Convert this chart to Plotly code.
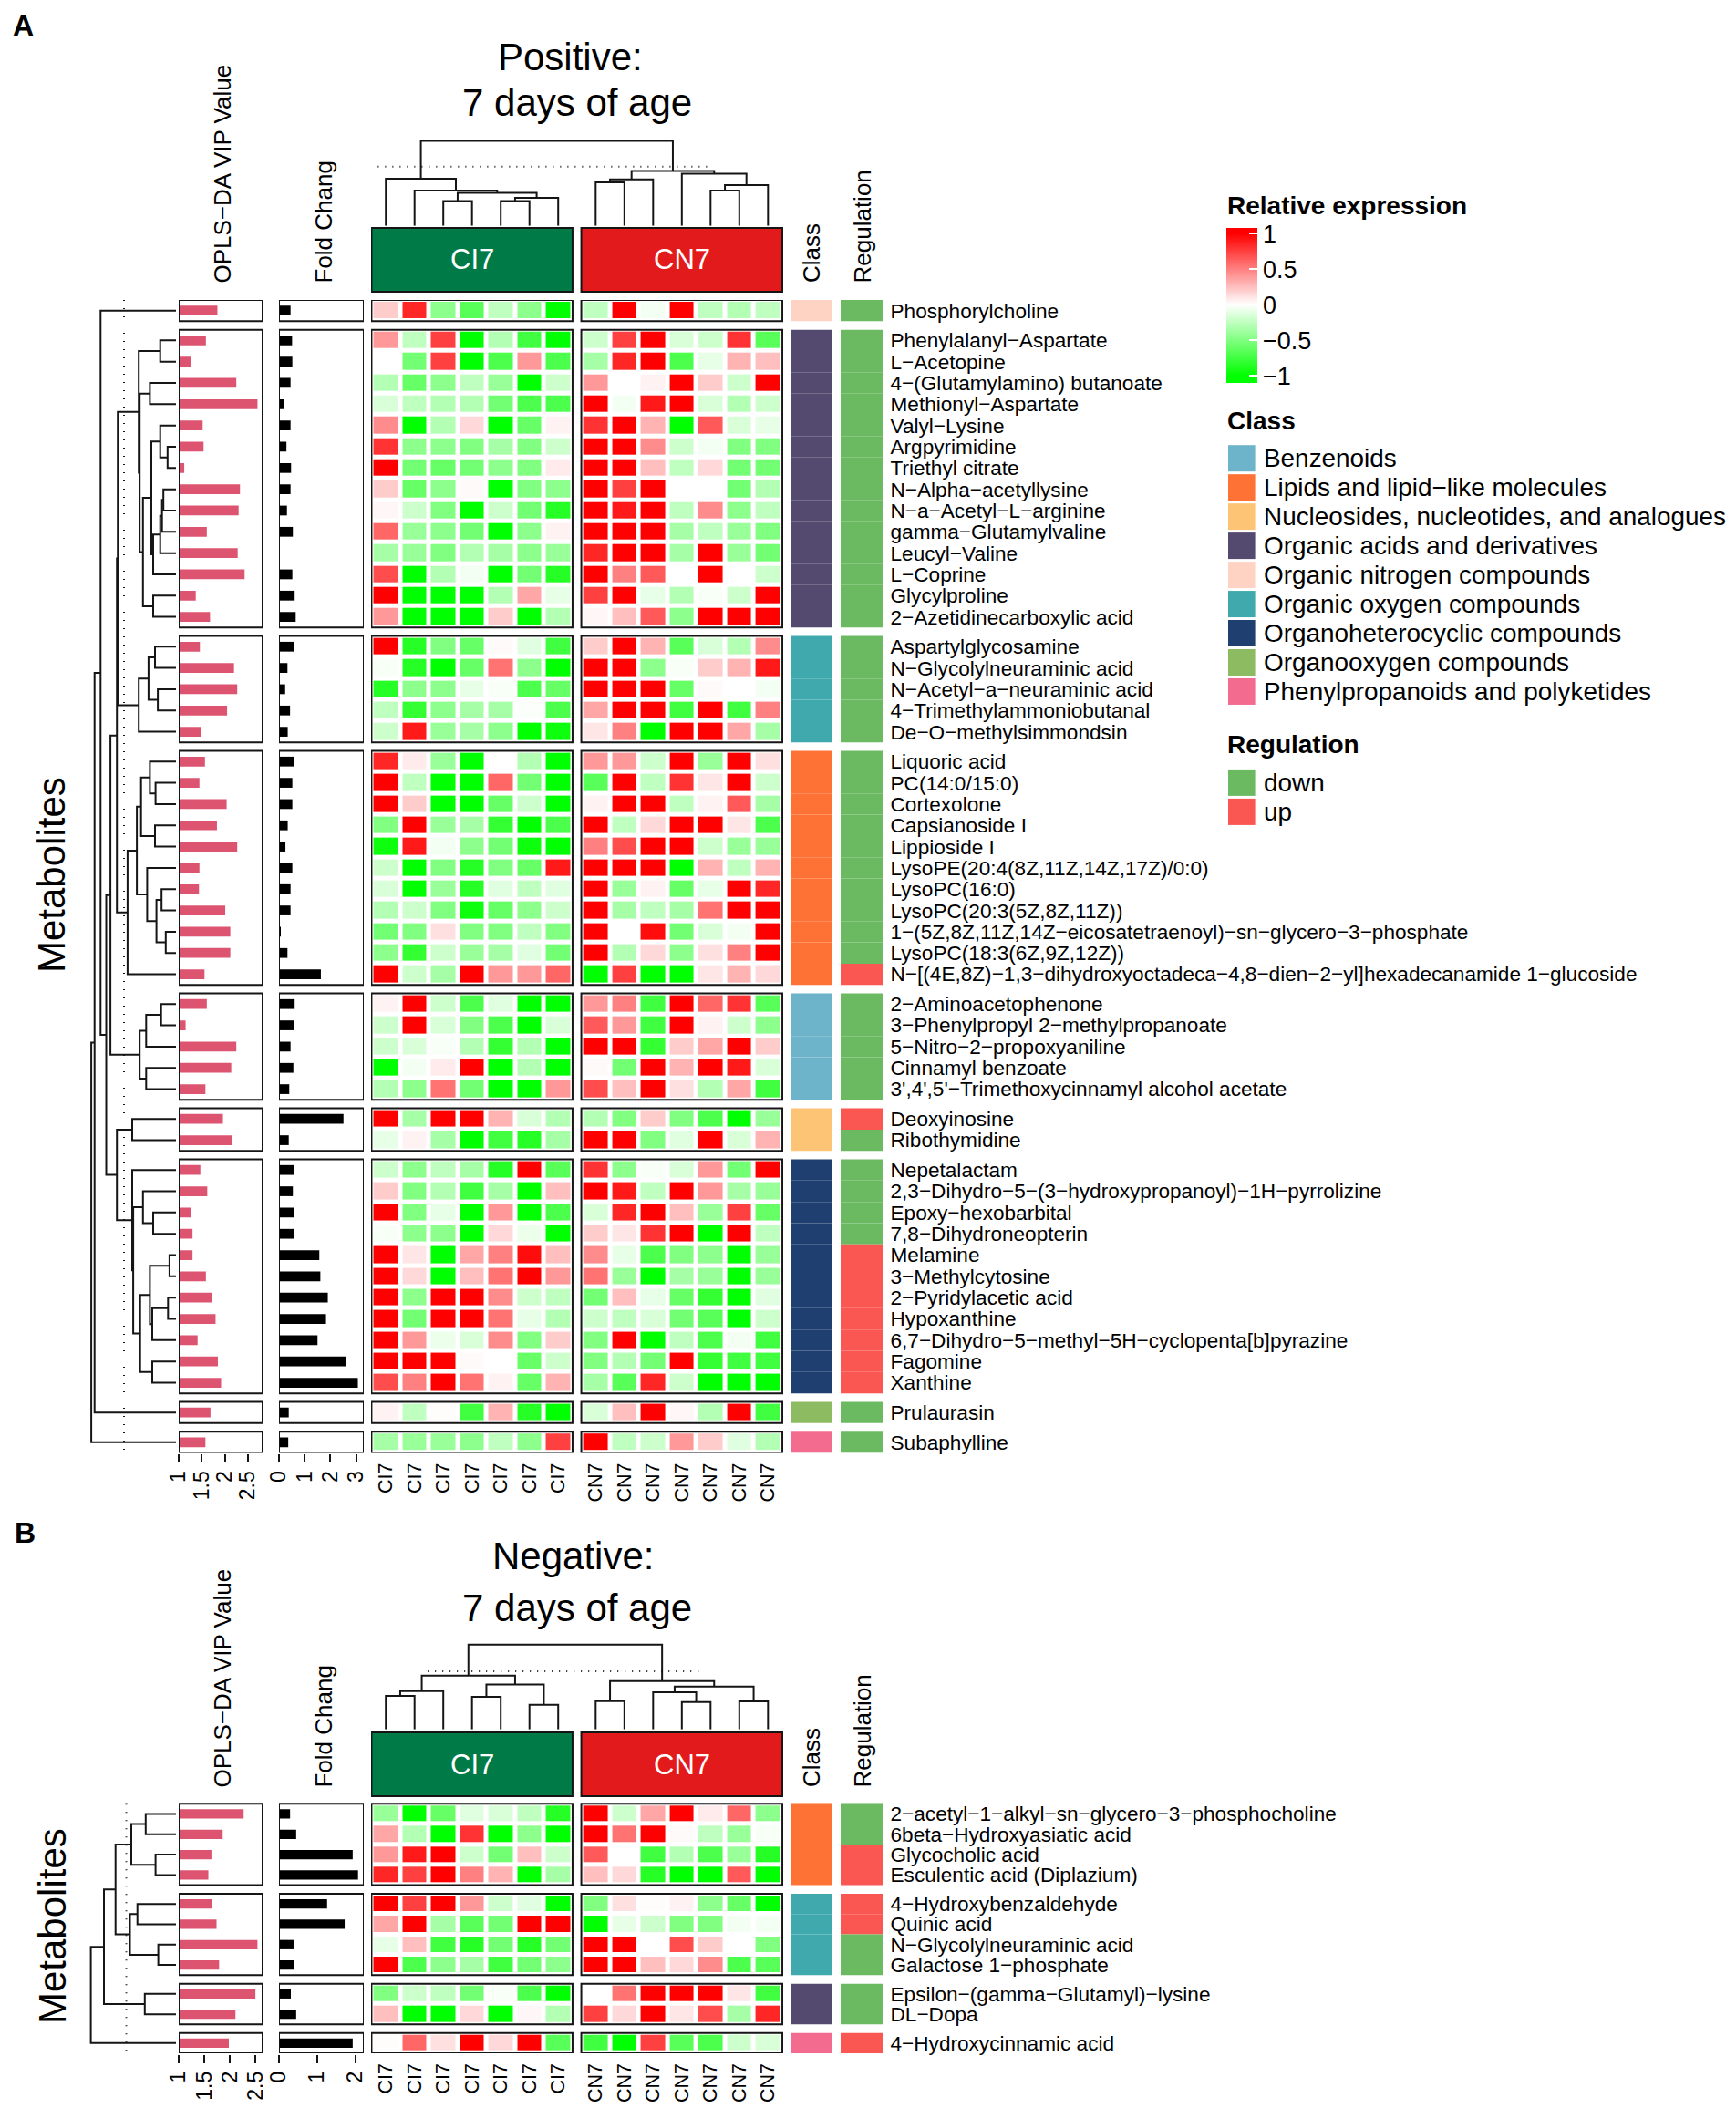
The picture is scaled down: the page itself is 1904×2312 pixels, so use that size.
import plotly.graph_objects as go

W, H = 1904, 2312
FONT = "Liberation Sans"

class_colors = {
    "Benzenoids": "#6DB3C9", "Lipids and lipid−like molecules": "#FF7235",
    "Nucleosides, nucleotides, and analogues": "#FDC476", "Organic acids and derivatives": "#544A70",
    "Organic nitrogen compounds": "#FFD3C3", "Organic oxygen compounds": "#40A9AD",
    "Organoheterocyclic compounds": "#1E3F6F", "Organooxygen compounds": "#8DBB62",
    "Phenylpropanoids and polyketides": "#F36B8F",
}
reg_colors = {"down": "#6BBA62", "up": "#FA5652"}

# ---------- Panel A data ----------
group_sizes_a = [1, 14, 5, 11, 5, 2, 11, 1, 1]
group_class_a = ["Organic nitrogen compounds", "Organic acids and derivatives", "Organic oxygen compounds",
                 "Lipids and lipid−like molecules", "Benzenoids", "Nucleosides, nucleotides, and analogues",
                 "Organoheterocyclic compounds", "Organooxygen compounds", "Phenylpropanoids and polyketides"]
labels_a = ["Phosphorylcholine",
    "Phenylalanyl−Aspartate", "L−Acetopine", "4−(Glutamylamino) butanoate", "Methionyl−Aspartate", "Valyl−Lysine",
    "Argpyrimidine", "Triethyl citrate", "N−Alpha−acetyllysine", "N−a−Acetyl−L−arginine", "gamma−Glutamylvaline",
    "Leucyl−Valine", "L−Coprine", "Glycylproline", "2−Azetidinecarboxylic acid",
    "Aspartylglycosamine", "N−Glycolylneuraminic acid", "N−Acetyl−a−neuraminic acid", "4−Trimethylammoniobutanal",
    "De−O−methylsimmondsin",
    "Liquoric acid", "PC(14:0/15:0)", "Cortexolone", "Capsianoside I", "Lippioside I", "LysoPE(20:4(8Z,11Z,14Z,17Z)/0:0)",
    "LysoPC(16:0)", "LysoPC(20:3(5Z,8Z,11Z))", "1−(5Z,8Z,11Z,14Z−eicosatetraenoyl)−sn−glycero−3−phosphate",
    "LysoPC(18:3(6Z,9Z,12Z))", "N−[(4E,8Z)−1,3−dihydroxyoctadeca−4,8−dien−2−yl]hexadecanamide 1−glucoside",
    "2−Aminoacetophenone", "3−Phenylpropyl 2−methylpropanoate", "5−Nitro−2−propoxyaniline", "Cinnamyl benzoate",
    "3',4',5'−Trimethoxycinnamyl alcohol acetate",
    "Deoxyinosine", "Ribothymidine",
    "Nepetalactam", "2,3−Dihydro−5−(3−hydroxypropanoyl)−1H−pyrrolizine", "Epoxy−hexobarbital", "7,8−Dihydroneopterin",
    "Melamine", "3−Methylcytosine", "2−Pyridylacetic acid", "Hypoxanthine",
    "6,7−Dihydro−5−methyl−5H−cyclopenta[b]pyrazine", "Fagomine", "Xanthine",
    "Prulaurasin", "Subaphylline"]
vip_a = [1.84,
    1.59, 1.26, 2.25, 2.71, 1.52, 1.54, 1.12, 2.33, 2.30, 1.61, 2.28, 2.43, 1.37, 1.68,
    1.46, 2.20, 2.27, 2.05, 1.48,
    1.57, 1.45, 2.04, 1.83, 2.27, 1.45, 1.44, 2.01, 2.12, 2.12, 1.56,
    1.61, 1.15, 2.25, 2.14, 1.58,
    1.96, 2.15,
    1.47, 1.62, 1.27, 1.30, 1.30, 1.59, 1.73, 1.80, 1.41, 1.85, 1.92,
    1.69, 1.58]
fc_a = [.45,
    .51, .52, .45, .18, .45, .29, .47, .45, .31, .54, .02, .52, .61, .65,
    .58, .33, .24, .43, .34,
    .58, .52, .52, .34, .25, .52, .45, .45, .07, .33, 1.63,
    .61, .58, .45, .56, .40,
    2.51, .38,
    .58, .54, .58, .58, 1.57, 1.61, 1.90, 1.83, 1.50, 2.62, 3.07,
    .38, .36]
regulation_a = (["down"] * 30 + ["up"] + ["down"] * 5 + ["up", "down"] + ["down"] * 4 + ["up"] * 7 + ["down"] * 2)
heat_a = [
    [.2, .85, -.45, -.65, -.25, -.45, -1, -.25, 1, -.05, 1, -.25, -.3, -.25],
    [.4, -.25, .75, -1, -.3, -.75, -1, -.2, .75, 1, -.15, -.2, .8, -.65],
    [0, -.55, .75, -1, -.7, .4, -.7, -.35, .85, 1, -.7, -.1, .3, .25],
    [-.3, -.6, -.45, -.25, -.4, -1, -.2, .4, 0, .05, 1, .2, -.2, 1],
    [-.15, -.25, -.3, -.3, -.55, -.7, -.7, 1, -.05, .9, 1, -.15, -.3, -.2],
    [.45, -1, -.3, .15, -1, -.6, .05, .8, 1, .3, -1, .65, -.15, -.1],
    [.8, -.45, -.45, -.5, -.35, -.5, -.2, 1, 1, .45, -.2, -.05, -.5, -.5],
    [1, -.55, -.6, -.55, -.45, -.5, .08, 1, 1, .25, -.25, .15, -.55, -.55],
    [.2, -.6, -.45, .02, -1, -.5, -.45, 1, .75, 1, 0, 0, -.55, -.3],
    [.03, -.2, -.5, -1, -.2, -.55, -.85, 1, .9, 1, -.25, .45, -.45, -.25],
    [.6, -.4, -.45, -.55, -1, -.45, .05, 1, 1, 1, -.35, -.25, -.4, -.5],
    [-.35, -.4, -.5, -.3, -.35, -.45, -.4, .85, 1, 1, -.35, 1, -.4, -.55],
    [.7, -1, -.3, -.05, -1, -.55, -.85, 1, .5, .65, 0, 1, 0, -.2],
    [1, -1, -1, -1, -.3, .35, -.1, .75, 1, -.1, -.3, -.03, -.2, 1],
    [.4, -1, -1, -1, .2, -1, -.3, .03, .25, .65, -.45, 1, 1, 1],
    [1, -.85, -.5, -.6, .02, -.12, -.75, .2, 1, .3, -.65, -.15, -.3, .45],
    [-.03, -.85, -1, -.6, .55, -.45, -1, 1, 1, -.45, -.03, .2, .3, .9],
    [-.85, -.45, -.45, -.1, -.03, -.7, -.6, 1, 1, 1, -.6, .02, 0, -.05],
    [-.25, -.8, -.45, -.35, -.35, -.02, -.7, .35, 1, 1, -.75, 1, -.75, .5],
    [-.2, .9, -.4, -.35, -.45, -1, -.95, .1, .5, -1, 1, 1, .35, -.35],
    [.85, .08, -.4, -1, 0, -.3, -1, .4, .4, -.2, 1, -.4, 1, .12],
    [1, -.25, -1, -1, .6, -.55, -1, -.65, 1, -.25, .8, .1, 1, -.2],
    [1, .2, -1, -1, -.6, -.2, -1, .05, 1, 1, -.25, .05, .65, -.35],
    [-.5, 1, -.4, -.35, -.8, -1, -.7, 1, -.25, .15, 1, 1, .1, -.7],
    [-.95, .9, -.05, -.45, -.55, -.95, -1, .5, .7, 1, 1, -.2, -.4, -.4],
    [-.2, -1, -.5, -.85, -.5, -.6, .9, 1, 1, 1, -1, .3, -.25, .3],
    [-.15, -1, -.4, -.85, -.12, -.25, -.12, 1, -.4, .05, -.6, -.1, 1, .85],
    [-.3, -.2, -.5, -.95, -.6, -.45, -.2, 1, -.35, -.25, -.35, .55, 1, 1],
    [-.55, -.5, .12, -.5, -.5, -.25, -.5, 1, 0, .95, -.55, -.15, -.05, 1],
    [-.45, -.8, -.2, -.4, -.35, -.12, -.55, 1, -.3, .15, -.45, .12, .5, 1],
    [1, -.2, -.35, 1, .4, .4, .6, -1, .75, -1, -1, .1, .3, .15],
    [.05, 1, -.2, -.7, -.12, -1, -1, .4, .5, -.75, 1, .6, .8, -.65],
    [-.2, 1, -.15, -.5, -.7, -1, -.15, .65, .4, -.75, 1, .05, -.2, -.45],
    [-.2, -.15, -.03, -.3, -.8, -.3, -1, 1, 1, -.8, .2, .35, 1, .2],
    [-1, -.05, .08, 1, -1, -.3, -1, .02, -.55, 1, .3, 1, .9, -.15],
    [-.3, -.45, .55, -.55, -1, -1, .4, .7, .25, 1, .12, -.3, .35, -.75],
    [1, -.35, 1, 1, .3, -.15, -.3, -.3, -.5, .2, -.5, -.7, -1, -.4],
    [-.1, .05, -.35, -1, -.75, -.85, -.35, 1, 1, -.5, -.12, 1, -.15, .3],
    [-.2, -.45, -.25, -.35, -.85, 1, -.65, .8, -.45, -.03, -.15, .4, -.55, 1],
    [.2, -.5, -.3, -.75, -.35, -1, .25, 1, .9, -.25, 1, .4, -.35, -.4],
    [1, -.5, -.1, -1, .4, -1, -.7, -.15, .85, 1, .25, -.4, .75, -.6],
    [-.03, -.45, -.45, -1, .15, -.08, -1, .2, .1, .8, 1, -1, 1, -.25],
    [1, .1, -1, .35, .5, .95, .25, .45, -.1, -.7, -.5, -.45, -1, -.4],
    [1, .15, -1, .25, .55, 1, .4, .55, -.4, -1, -.35, -.4, -1, -.4],
    [1, -.45, 1, 1, .45, -.2, -.25, -.55, .25, -.1, -.6, -.8, -1, -.12],
    [1, -.55, 1, 1, .55, -.1, -.3, -.2, -.25, -.15, -.55, -.65, -1, -.2],
    [1, .4, -.08, -.15, .45, -.5, .2, -.5, 1, -1, -.25, -.7, -.05, -.75],
    [1, 1, 1, .02, 0, -.6, -.2, -.5, -.3, -.55, 1, -.8, -.75, -.75],
    [.7, .5, 1, .55, .05, -.6, .3, -.35, -.65, .85, -.2, -1, -1, -1],
    [.05, -.25, .01, -.75, .3, -.85, -1, -.15, .25, 1, .03, -.3, 1, -.75],
    [-.35, -.4, -.4, -.45, -.25, -.45, .75, 1, -.25, -.2, .4, .2, -.12, -.3],
]
# dendrogram nodes are [height, left, right]; 0 is a leaf
_g2 = [40.8, [17.3, 0, 0], [39.8, [28.6, 0, 0], [36.2,
       [27, [17.3, 0, [9.2, 0, 0]], [25, [17.3, [15.3, [13.8, 0, 0], 0], 0], 0]], [25, 0, 0]]]]
_g3 = [40.8, [30.1, [23, 0, 0], [19.9, 0, 0]], 0]
_g4 = [53.1, [42.9, [38.3, [28.6, 0, [22.4, 0, 0]], [23, 0, 0]],
              [31.6, 0, [21.4, [15.8, 0, 0], [11.2, 0, 0]]]], 0]
_g5 = [39.8, [32.7, [16.3, 0, 0], 0], [32.7, 0, 0]]
_g7 = [48, 0, [46.9, [36.2, 0, [25, 0, 0]],
               [39.3, [28.6, [7.1, 0, 0], [26, [8.7, 0, 0], 0]], [26, 0, 0]]]]
row_tree_a = [92.9, [89.3, [82.7, 0, [76.5,
              [71.9, [64.8, [63.8, _g2, _g3], _g4], _g5],
              [64.8, [48, 0, 0], _g7]]], 0], 0]
col_tree_a = [93.3,
              [51.7, 0, [38.7, 0, [36.3, [27.3, 0, 0], [30.7, [27.3, 0, 0], 0]]]],
              [60.3, [51, [47.7, 0, 0], 0], [57.3, 0, [44.7, [38.7, 0, 0], 0]]]]
row_cut_a, col_cut_a = 57, 65

# ---------- Panel B data ----------
group_sizes_b = [4, 4, 2, 1]
group_class_b = ["Lipids and lipid−like molecules", "Organic oxygen compounds",
                 "Organic acids and derivatives", "Phenylpropanoids and polyketides"]
labels_b = ["2−acetyl−1−alkyl−sn−glycero−3−phosphocholine", "6beta−Hydroxyasiatic acid", "Glycocholic acid",
            "Esculentic acid (Diplazium)", "4−Hydroxybenzaldehyde", "Quinic acid", "N−Glycolylneuraminic acid",
            "Galactose 1−phosphate", "Epsilon−(gamma−Glutamyl)−lysine", "DL−Dopa", "4−Hydroxycinnamic acid"]
vip_b = [2.27, 1.86, 1.64, 1.58, 1.65, 1.74, 2.54, 1.79, 2.50, 2.11, 1.98]
fc_b = [.29, .45, 1.93, 2.07, 1.26, 1.72, .39, .39, .31, .45, 1.93]
regulation_b = ["down", "down", "up", "up", "up", "up", "down", "down", "down", "down", "up"]
heat_b = [
    [-.4, -1, -.6, -.12, -.15, -.25, -.85, 1, -.2, .35, 1, .08, .6, -.45],
    [.35, -.3, -1, .8, -1, -.45, -1, 1, .55, 1, .02, -.25, -.4, -.03],
    [.4, .9, 1, -.2, -.55, .25, -.2, .65, 0, -.75, -.3, -.7, -.4, -.85],
    [.85, .75, 1, .5, .3, -1, -.35, .25, .15, -.85, -1, -1, .65, -1],
    [1, .75, 1, .4, -.2, -.12, -1, -.5, .12, .01, .05, -.45, -.6, -1],
    [.35, 1, -.35, -.65, -.55, 1, 1, -1, -.1, -.2, -.5, -.5, -.05, -.05],
    [-.1, .25, -.75, -.85, -.55, -.85, -.55, 1, 1, 0, .7, .2, 0, -.5],
    [1, -.7, -.45, -.35, -.75, -.55, -.45, 1, 1, .25, .15, .45, -.7, -.65],
    [-.5, -.2, -.25, -.55, -.03, -.7, -1, 0, .55, 1, 1, 1, .1, -.75],
    [.25, -1, -1, .15, -1, .03, -.3, .75, .15, 1, .1, .7, -.35, .85],
    [.01, .6, .12, 1, .15, 1, -.65, -.75, -1, .75, -.65, -.7, -.2, -.15],
]
row_tree_b = [93.4, [79, [66.3, [49, [33.2, 0, 0], [22.4, 0, 0]], [50.5, [42.3, 0, 0], [19.4, 0, 0]]],
                     [34.2, 0, 0]], 0]
col_tree_b = [93,
              [59, [42, [36.7, 0, 0], 0], [49.3, [35.7, 0, 0], [27, 0, 0]]],
              [53, [31, 0, 0], [47, [40.7, 0, [30, 0, 0]], [30.7, 0, 0]]]]
row_cut_b, col_cut_b = 54.5, 63.7

col_names = ["CI7"] * 7 + ["CN7"] * 7
vip_ticks = [1, 1.5, 2, 2.5]
vip_ticktext = ["1", "1.5", "2", "2.5"]
fc_ticks_a = [0, 1, 2, 3]
fc_ticks_b = [0, 1, 2]
legend_ticks = [1, .5, 0, -.5, -1]

# ---------- helpers ----------
def xdom(a, b): return [a / W, b / W]
def ydom(top, bot): return [1 - bot / H, 1 - top / H]
def py(y): return 1 - y / H
def px(x): return x / W

COL_PITCH = 31.5
COL_X0 = 423.2
CN_OFFSET = 7.305
col_pos = [float(i) for i in range(7)] + [CN_OFFSET + i for i in range(7)]
heat_x0, heat_x1 = 407, 859
heat_range = [(heat_x0 - COL_X0) / COL_PITCH, (heat_x1 - COL_X0) / COL_PITCH]

def dendro(tree, leaves):
    xs, ys = [], []
    it = iter(leaves)
    def walk(n):
        if n == 0:
            return next(it), 0
        a, ha = walk(n[1])
        b, hb = walk(n[2])
        h = n[0]
        xs.extend([a, a, b, b, None])
        ys.extend([ha, h, h, hb, None])
        return (a + b) / 2, h
    walk(tree)
    return xs, ys

fig = go.Figure()
layout = dict(
    width=W, height=H, autosize=False, margin=dict(l=0, r=0, t=0, b=0, pad=0),
    paper_bgcolor="white", plot_bgcolor="white", showlegend=False, template="none",
    font=dict(family=FONT, color="black"),
    coloraxis=dict(
        cmin=-1.1, cmax=1.08,
        colorscale=[[0, "#00ff00"], [0.1 / 2.18, "#00ff00"], [1.1 / 2.18, "#ffffff"], [2.1 / 2.18, "#ff0000"], [1, "#ff0000"]],
        colorbar=dict(thicknessmode="pixels", thickness=34, lenmode="pixels", len=170, x=px(1345), xanchor="left",
                      y=py(250), yanchor="top", xpad=0, ypad=0, outlinewidth=0, borderwidth=0,
                      tickmode="array", tickvals=legend_ticks, ticktext=["1", "0.5", "0", "−0.5", "−1"],
                      ticks="inside", ticklen=9, tickcolor="white", tickwidth=2, tickfont=dict(size=27, family=FONT)),
    ),
)
shapes, annotations = [], []
LINE = "#151515"

def text(x, y, s, size, angle=0, xanchor="center", yanchor="middle", color="black", bold=False, xref="paper"):
    annotations.append(dict(x=x, y=py(y), xref=xref, yref="paper", text=f"<b>{s}</b>" if bold else s, showarrow=False,
                            font=dict(size=size, color=color, family=FONT), textangle=angle,
                            xanchor=xanchor, yanchor=yanchor, xshift=0, yshift=0, borderpad=0, borderwidth=0))

def panel(idx, sizes, classes, labels, vip, fc, reg, heat, row_tree, col_tree, row_cut, col_cut,
          top, bot, pitch_gap, dend_top_bot, vip_max, fc_max, fc_ticks, hdr, tick_y, row_dot_x):
    n = idx * 6
    xn = {k: n + i + 1 for i, k in enumerate(["vip", "fc", "heat", "cls", "reg", "dend"])}
    yr, yt = idx * 2 + 1, idx * 2 + 2
    ax = lambda i: "x" + (str(i) if i > 1 else "")
    ay = lambda i: "y" + (str(i) if i > 1 else "")
    key = lambda c, i: c + "axis" + (str(i) if i > 1 else "")
    # rows
    pos, starts = [], []
    p = 0.0
    for s in sizes:
        starts.append(p)
        pos.extend(p + j for j in range(s))
        p += s + pitch_gap
    yrange = [pos[-1] + .5, -.5]
    # axes
    layout[key("y", yr)] = dict(domain=ydom(top, bot), range=yrange, anchor="free", position=px(968), side="right",
                                tickmode="array", tickvals=pos, ticktext=labels, showgrid=False, zeroline=False,
                                showline=False, ticks="outside", ticklen=3, tickcolor="rgba(0,0,0,0)",
                                tickfont=dict(size=22.6, family=FONT))
    layout[key("y", yt)] = dict(domain=ydom(dend_top_bot[0], dend_top_bot[1]), range=[0, dend_top_bot[1] - dend_top_bot[0]],
                                visible=False, anchor=ax(xn["heat"]))
    tick_pos = py(tick_y)
    common = dict(showgrid=False, zeroline=False, showline=False, ticks="outside", ticklen=9, tickwidth=2,
                  tickcolor=LINE, tickangle=-90, tickfont=dict(size=23, family=FONT), anchor="free", position=tick_pos)
    layout[key("x", xn["vip"])] = dict(domain=xdom(196, 288), range=[1, vip_max], tickmode="array",
                                       tickvals=vip_ticks, ticktext=vip_ticktext, **common)
    layout[key("x", xn["fc"])] = dict(domain=xdom(306, 399), range=[0, fc_max], tickmode="array",
                                      tickvals=fc_ticks, ticktext=[str(t) for t in fc_ticks], **common)
    heat_common = dict(common, tickcolor="rgba(0,0,0,0)", ticklen=1, tickfont=dict(size=21.5, family=FONT))
    layout[key("x", xn["heat"])] = dict(domain=xdom(heat_x0, heat_x1), range=heat_range, tickmode="array",
                                        tickvals=col_pos, ticktext=col_names, **heat_common)
    layout[key("x", xn["cls"])] = dict(domain=xdom(867, 912.5), range=[0, 1], visible=False, anchor=ay(yr))
    layout[key("x", xn["reg"])] = dict(domain=xdom(922, 968), range=[0, 1], visible=False, anchor=ay(yr))
    layout[key("x", xn["dend"])] = dict(domain=xdom(0, 193), range=[193, 0], visible=False, anchor=ay(yr))
    # bars
    fig.add_bar(x=vip, y=pos, orientation="h", width=.46, marker=dict(color="#DC5470", line_width=0),
                xaxis=ax(xn["vip"]), yaxis=ay(yr))
    fig.add_bar(x=fc, y=pos, orientation="h", width=.46, marker=dict(color="black", line_width=0),
                xaxis=ax(xn["fc"]), yaxis=ay(yr))
    row_class = [c for c, s in zip(classes, sizes) for _ in range(s)]
    fig.add_bar(x=[1] * len(pos), y=pos, orientation="h", width=1,
                marker=dict(color=[class_colors[c] for c in row_class], line_width=0),
                xaxis=ax(xn["cls"]), yaxis=ay(yr))
    fig.add_bar(x=[1] * len(pos), y=pos, orientation="h", width=1,
                marker=dict(color=[reg_colors[r] for r in reg], line_width=0),
                xaxis=ax(xn["reg"]), yaxis=ay(yr))
    # heatmaps and panel frames
    i0 = 0
    for s, st in zip(sizes, starts):
        rows = heat[i0:i0 + s]
        i0 += s
        for a, b, off in [(0, 7, 0.0), (7, 14, CN_OFFSET)]:
            fig.add_trace(go.Heatmap(z=[r[a:b] for r in rows], x0=off, dx=1, y0=st, dy=1, coloraxis="coloraxis",
                                     xgap=5, ygap=5, xaxis=ax(xn["heat"]), yaxis=ay(yr), hoverongaps=False))
        y0, y1 = st - .5, st + s - .5
        frames = [(ax(xn["vip"]), 1, vip_max), (ax(xn["fc"]), 0, fc_max),
                  (ax(xn["heat"]), -.5, 6.5), (ax(xn["heat"]), CN_OFFSET - .5, CN_OFFSET + 6.5)]
        for xr, a, b in frames:
            shapes.append(dict(type="rect", xref=xr, yref=ay(yr), x0=a, x1=b, y0=y0, y1=y1,
                               line=dict(color=LINE, width=2), fillcolor="rgba(0,0,0,0)"))
    # dendrograms
    dh, dy = dendro(row_tree, pos)
    fig.add_scatter(x=dy, y=dh, mode="lines", line=dict(color=LINE, width=2), xaxis=ax(xn["dend"]), yaxis=ay(yr))
    fig.add_scatter(x=[row_cut, row_cut], y=[-.5, pos[-1] + .5], mode="lines",
                    line=dict(color=LINE, width=2, dash="1px,8px"), xaxis=ax(xn["dend"]), yaxis=ay(yr))
    tx, th = dendro(col_tree, col_pos)
    fig.add_scatter(x=tx, y=th, mode="lines", line=dict(color=LINE, width=2), xaxis=ax(xn["heat"]), yaxis=ay(yt))
    # header strips
    for a, b, col, name in [(-.5, 6.5, "#007A46", "CI7"), (CN_OFFSET - .5, CN_OFFSET + 6.5, "#E31A1C", "CN7")]:
        shapes.append(dict(type="rect", xref=ax(xn["heat"]), yref="paper", x0=a, x1=b, y0=py(hdr[1]), y1=py(hdr[0]),
                           fillcolor=col, line=dict(color=LINE, width=2)))
        annotations.append(dict(x=(a + b) / 2, y=py((hdr[0] + hdr[1]) / 2), xref=ax(xn["heat"]), yref="paper", text=name,
                                xanchor="center", yanchor="middle", showarrow=False,
                                font=dict(size=31, color="white", family=FONT)))
    return ax(xn["heat"]), ay(yt)

hx, hy = panel(0, group_sizes_a, group_class_a, labels_a, vip_a, fc_a, regulation_a, heat_a, row_tree_a, col_tree_a,
      row_cut_a, col_cut_a, 329, 1593.5, .4, (140, 247.7), 2.82, 3.3, fc_ticks_a, (250, 320), 1594, 136)
fig.add_scatter(x=[-.28, 11.26], y=[col_cut_a, col_cut_a], mode="lines", line=dict(color=LINE, width=2, dash="1px,7px"),
                xaxis=hx, yaxis=hy)
hx, hy = panel(1, group_sizes_b, group_class_b, labels_b, vip_b, fc_b, regulation_b, heat_b, row_tree_b, col_tree_b,
      row_cut_b, col_cut_b, 1978.3, 2252, .42, (1790, 1896.7), 2.64, 2.22, fc_ticks_b, (1900, 1970), 2252.5, 138)
fig.add_scatter(x=[1.46, 11.0], y=[col_cut_b, col_cut_b], mode="lines", line=dict(color=LINE, width=2, dash="1px,7px"),
                xaxis=hx, yaxis=hy)

# ---------- titles ----------
text(px(14), 28, "A", 32, xanchor="left", bold=True)
text(px(16), 1681, "B", 32, xanchor="left", bold=True)
text(px(625), 62, "Positive:", 42)
text(px(633), 113, "7 days of age", 42)
text(px(628), 1706, "Negative:", 42)
text(px(633), 1763, "7 days of age", 42)
for base, met_y in [(310.5, 960), (1960.5, 2113)]:
    text(px(243), base, "OPLS−DA VIP Value", 26, angle=-90, yanchor="bottom")
    text(px(354), base, "Fold Chang", 26, angle=-90, yanchor="bottom")
    text(px(890), base, "Class", 26, angle=-90, yanchor="bottom")
    text(px(945), base, "Regulation", 26, angle=-90, yanchor="bottom")
    text(px(57), met_y, "Metabolites", 42, angle=-90)

# ---------- legends ----------
text(px(1346), 225, "Relative expression", 28, xanchor="left", bold=True)
for t in legend_ticks:
    y = 334.3 - t * 78.3
    shapes.append(dict(type="line", xref="paper", yref="paper", x0=px(1345), x1=px(1354), y0=py(y), y1=py(y),
                       line=dict(color="white", width=2)))
text(px(1346), 461, "Class", 28, xanchor="left", bold=True)
for i, (name, col) in enumerate(class_colors.items()):
    y = 502.7 + i * 31.97
    shapes.append(dict(type="rect", xref="paper", yref="paper", x0=px(1347), x1=px(1376.6), y0=py(y - 14.5), y1=py(y + 14.5),
                       fillcolor=col, line_width=0))
    text(px(1385.5), y, name, 27.9, xanchor="left")
text(px(1346), 816.5, "Regulation", 28, xanchor="left", bold=True)
for i, (name, col) in enumerate(reg_colors.items()):
    y = 858.4 + i * 32
    shapes.append(dict(type="rect", xref="paper", yref="paper", x0=px(1347), x1=px(1376.6), y0=py(y - 14.5), y1=py(y + 14.5),
                       fillcolor=col, line_width=0))
    text(px(1385.5), y, name, 27.9, xanchor="left")

layout["shapes"] = shapes
layout["annotations"] = annotations
fig.update_layout(**layout)
fig.write_html("out.html", config={"displayModeBar": False},
               post_script="document.body.style.margin='0';document.documentElement.style.overflow='hidden';")
